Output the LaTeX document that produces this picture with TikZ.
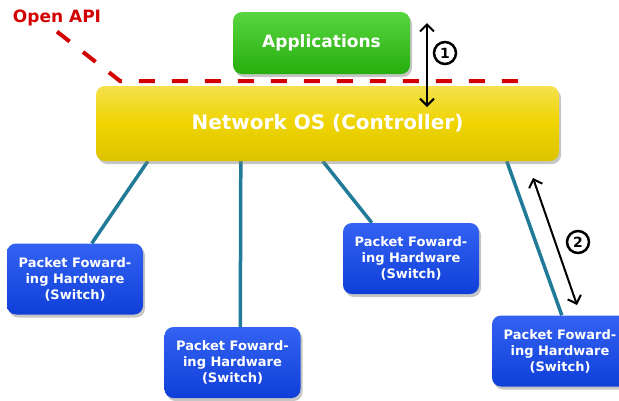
\documentclass[tikz,border=0pt]{standalone}
\usepackage{fontspec}
\setmainfont{DejaVu Sans}
\usepackage{tikz}
\usetikzlibrary{positioning}
\usetikzlibrary{shadows,backgrounds}
\usetikzlibrary{arrows.meta}
\definecolor{appgreen}{HTML}{2ECC10}
\definecolor{ctrlyellow}{HTML}{EFD400}
\definecolor{swblue}{HTML}{1046F0}
\definecolor{linkteal}{HTML}{217A98}
\definecolor{apired}{HTML}{D20000}

\begin{document}
\begin{tikzpicture}
    [x=1pt, y=-1pt,
     boxbase/.style={rectangle, rounded corners=9pt, text=white, align=center,
                     drop shadow={opacity=0.45, shadow xshift=2pt, shadow yshift=-3pt}},
     appbox/.style={boxbase, top color=appgreen!80!white, bottom color=appgreen!85!black,
                    minimum width=177pt, minimum height=62pt, font=\bfseries\fontsize{17}{19}\selectfont},
     ctrlbox/.style={boxbase, top color=ctrlyellow!70!white, bottom color=ctrlyellow!92!black, middle color=ctrlyellow,
                     minimum width=463pt, minimum height=75pt, font=\bfseries\fontsize{20}{22}\selectfont},
     swbox/.style={boxbase, top color=swblue!85!white, bottom color=swblue!90!black,
                   minimum width=136pt, minimum height=71pt, font=\bfseries\fontsize{13}{16}\selectfont},
     link/.style={draw=linkteal, line width=3.5pt},
     api/.style={draw=apired, line width=4pt, dash pattern=on 16pt off 17pt},
     flow/.style={draw=black, line width=2pt, {Straight Barb[length=7pt,width=14pt]}-{Straight Barb[length=7pt,width=14pt]}},
     num/.style={circle, draw=black, line width=2.5pt, inner sep=0pt, minimum size=22pt,
                 font=\bfseries\fontsize{14}{14}\selectfont}]

    \useasboundingbox (0,0) rectangle (619,400);

    \node [ctrlbox] (ctrl) at (327.5,123.5) {Network OS (Controller)};
    \node [appbox] (app) at (321.5,43) {Applications};

    \node [swbox] (sw1) at (75,279) {Packet Foward-\\ing Hardware\\(Switch)};
    \node [swbox] (sw2) at (232.5,362.5) {Packet Foward-\\ing Hardware\\(Switch)};
    \node [swbox] (sw3) at (411,258.5) {Packet Foward-\\ing Hardware\\(Switch)};
    \node [swbox] (sw4) at (560,351) {Packet Foward-\\ing Hardware\\(Switch)};

    \begin{scope}[on background layer]
    \draw [link] ([xshift=52pt] ctrl.south west) -- ([xshift=85pt] sw1.north west);
    \draw [link] ([xshift=145pt] ctrl.south west) -- ([xshift=76pt] sw2.north west);
    \draw [link] ([xshift=227pt] ctrl.south west) -- ([xshift=29pt] sw3.north west);
    \draw [link] ([xshift=411pt] ctrl.south west) -- ([xshift=70pt] sw4.north west);
    \end{scope}

    % open api border
    \node [text=apired, font=\bfseries\fontsize{17}{19}\selectfont] (open) at (57,18) {Open API};
    \coordinate (bend) at (120,81);
    \coordinate (apiend) at (527,81);
    \draw [api] ([yshift=-2pt] open.south) -- (bend) -- (apiend);

    % interfaces
    \coordinate (f1a) at (427,23);
    \coordinate (f1b) at (427,107);
    \draw [flow] (f1a) -- (f1b);
    \node [num] (n1) at (445,53) {1};

    \coordinate (f2a) at (533,178);
    \coordinate (f2b) at (577,305);
    \draw [flow] (f2a) -- (f2b);
    \node [num] (n2) at (578,242) {2};
\end{tikzpicture}
\end{document}
